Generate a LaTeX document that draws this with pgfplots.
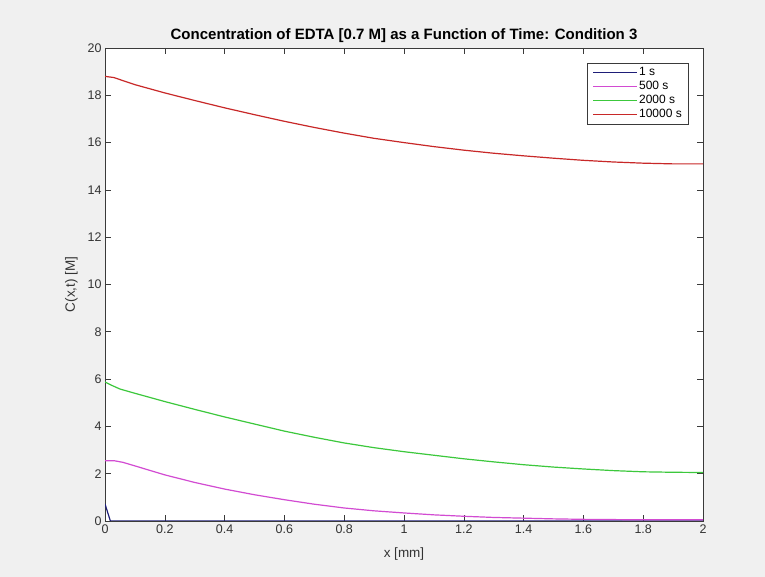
\documentclass[border=0pt]{standalone}
\usepackage{fontspec}
\setmainfont{Liberation Sans}
\usepackage{pgfplots}
\pgfplotsset{compat=1.18}
\definecolor{cBg}{HTML}{F0F0F0}
\definecolor{cAx}{HTML}{3A3A3A}
\definecolor{cTxt}{HTML}{333333}
\definecolor{cB}{HTML}{1E1E78}
\definecolor{cM}{HTML}{D24BD2}
\definecolor{cG}{HTML}{3CC83C}
\definecolor{cR}{HTML}{C82828}

\begin{document}
\begin{tikzpicture}[x=1pt,y=1pt]
\fill[cBg] (0,0) rectangle (765,577);
\begin{axis}[
  at={(105pt,56pt)}, anchor=south west, scale only axis,
  width=598pt, height=473pt,
  xmin=0, xmax=2, ymin=0, ymax=20,
  xtick={0,0.2,0.4,0.6,0.8,1,1.2,1.4,1.6,1.8,2},
  ytick={0,2,4,6,8,10,12,14,16,18,20},
  tick align=inside, xtick pos=both, ytick pos=both,
  major tick length=6pt,
  axis line style={cAx, line width=0.8pt},
  every tick/.style={cAx, line width=0.6pt},
  axis background/.style={fill=white},
  /pgf/number format/assume math mode=true,
  tick label style={font=\fontsize{12.5}{14}\selectfont, color=cTxt},
  label style={font=\fontsize{13.5}{15}\selectfont, color=cTxt},
  title style={font=\fontsize{15}{17}\selectfont\bfseries, color=black, yshift=-4pt},
  title={Concentration of EDTA [0.7 M] as a Function of Time: Condition 3},
  xlabel={x [mm]}, ylabel={C(x,t) [M]},
  xlabel style={yshift=-7pt},
  ylabel style={yshift=3pt},
  every axis plot/.append style={line width=1.2pt},
  legend style={at={(1,1)}, anchor=north east, xshift=-15pt, yshift=-15pt,
    draw=cAx, fill=white, font=\fontsize{12}{13}\selectfont,
    inner xsep=5pt, inner ysep=2.5pt, row sep=0pt,
    nodes={text height=8.8pt, text depth=2.6pt, inner ysep=1.3pt, inner xsep=1pt}},
  legend image code/.code={\draw[#1, line width=1.5pt] (0pt,0pt) -- (44pt,0pt);},
  legend cell align=left,
]
\addplot[cB] coordinates {(0,0.72)(0.018,0)(2,0)};
\addlegendentry{1 s}
\addplot[cM] coordinates {(0,2.55)(0.03,2.55)(0.06,2.48)(0.1,2.33)(0.15,2.14)(0.2,1.95)(0.3,1.63)(0.4,1.35)(0.5,1.11)(0.6,0.9)(0.7,0.71)(0.8,0.55)(0.9,0.43)(1.0,0.34)(1.1,0.26)(1.2,0.2)(1.3,0.15)(1.4,0.12)(1.5,0.09)(1.6,0.07)(1.7,0.06)(1.8,0.05)(1.9,0.05)(2.0,0.05)};
\addlegendentry{500 s}
\addplot[cG] coordinates {(0,5.88)(0.02,5.75)(0.05,5.58)(0.1,5.4)(0.2,5.05)(0.3,4.72)(0.4,4.4)(0.5,4.1)(0.6,3.8)(0.7,3.54)(0.8,3.3)(0.9,3.1)(1.0,2.93)(1.1,2.78)(1.2,2.63)(1.3,2.5)(1.4,2.38)(1.5,2.28)(1.6,2.2)(1.7,2.13)(1.8,2.08)(1.9,2.06)(2.0,2.05)};
\addlegendentry{2000 s}
\addplot[cR] coordinates {(0,18.8)(0.03,18.75)(0.06,18.62)(0.1,18.45)(0.2,18.1)(0.3,17.78)(0.4,17.47)(0.5,17.18)(0.6,16.9)(0.7,16.64)(0.8,16.4)(0.9,16.18)(1.0,16.0)(1.1,15.83)(1.2,15.68)(1.3,15.55)(1.4,15.44)(1.5,15.34)(1.6,15.25)(1.7,15.18)(1.8,15.13)(1.9,15.1)(2.0,15.1)};
\addlegendentry{10000 s}
\end{axis}
\end{tikzpicture}
\end{document}
